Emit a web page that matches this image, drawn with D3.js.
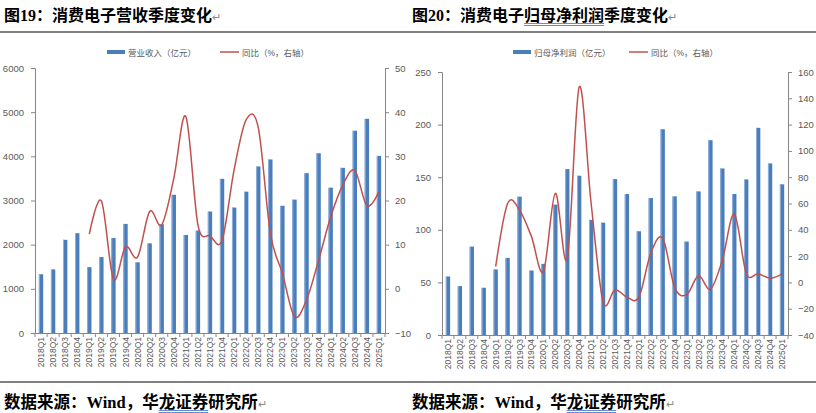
<!doctype html>
<html>
<head>
<meta charset="utf-8">
<script src="https://cdnjs.cloudflare.com/ajax/libs/d3/7.8.5/d3.min.js"></script>
<style>
  body { margin: 0; background: #fff; }
  svg { display: block; }
  .tick text { fill: #595959; }
</style>
</head>
<body>
<svg id="chart" width="816" height="413"></svg>
<script>
// quarters 2018Q1 .. 2025Q1
var quarters = ["2018Q1","2018Q2","2018Q3","2018Q4","2019Q1","2019Q2","2019Q3","2019Q4",
  "2020Q1","2020Q2","2020Q3","2020Q4","2021Q1","2021Q2","2021Q3","2021Q4",
  "2022Q1","2022Q2","2022Q3","2022Q4","2023Q1","2023Q2","2023Q3","2023Q4",
  "2024Q1","2024Q2","2024Q3","2024Q4","2025Q1"];

// 营业收入（亿元）
var revenue = [1330,1440,2110,2260,1490,1720,2150,2470,1600,2030,2460,3130,2220,2320,2750,3490,
  2840,3200,3770,3930,2880,3020,3620,4070,3290,3740,4580,4850,4010];
// 同比（%），first year has no value
var revenueYoy = [null,null,null,null,12.4,19.9,2.2,9.5,7.2,17.5,14.5,25,39,14.5,12,11,
  27,38.3,36.5,12.6,3.5,-6.3,-2.5,6.5,16.3,23.5,26.8,18.8,22];

// 归母净利润（亿元）
var profit = [55.6,46.5,84,44.9,62.3,73.3,131.5,61.3,67.6,123.9,157.7,151.4,109.4,106.8,148.2,134,
  98.6,130.2,195.6,131.8,88.8,136.5,185.2,158.3,134,147.9,196.9,163.1,143.2];
var profitYoy = [null,null,null,null,12.1,60,55,34.8,8.3,67.7,18.4,148.6,60,-14.5,-5.6,-11.2,
  -11.2,22.2,33.6,-3.8,-9.4,5,-5.1,17.1,52,7,6.5,3.2,6.3];

var leftTicks = [0,1000,2000,3000,4000,5000,6000];
var leftTicks2 = [-10,0,10,20,30,40,50];
var rightTicks = [0,50,100,150,200,250];
var rightTicks2 = [-40,-20,0,20,40,60,80,100,120,140,160];

var svg = d3.select("#chart");
var serif = "'Liberation Serif','Noto Sans CJK SC',serif";
var sans = "'Liberation Sans','Noto Sans CJK SC',sans-serif";

function drawPanel(opt) {
  var g = svg.append("g");

  // title
  var t = g.append("text").attr("x", opt.x0 + 4).attr("y", 21)
    .attr("font-family", serif).attr("font-weight", "bold").attr("font-size", 16).attr("fill", "#000");
  opt.title.forEach(function(p) {
    var ts = t.append("tspan").text(p[0]);
    if (p[1]) ts.attr("id", "ul" + opt.x0);
  });
  t.append("tspan").attr("fill", "#8a8a8a").attr("font-size", 11).attr("font-weight", "normal").text("↵");
  g.append("line").attr("x1", opt.x0).attr("x2", opt.x0 + 408).attr("y1", 32).attr("y2", 32)
    .attr("stroke", "#000").attr("stroke-width", 1);

  var x = d3.scaleBand().domain(quarters).range([opt.left, opt.right]).paddingInner(0.64).paddingOuter(0.32);
  var y = d3.scaleLinear().domain(opt.yDomain).range([opt.bottom, opt.top]);
  var y2 = d3.scaleLinear().domain(opt.y2Domain).range([opt.bottom, opt.top]);

  // bars
  g.selectAll("rect.bar").data(opt.bars).join("rect").attr("class", "bar")
    .attr("x", function(d, i) { return x(quarters[i]); })
    .attr("width", x.bandwidth())
    .attr("y", function(d) { return y(d); })
    .attr("height", function(d) { return opt.bottom - y(d); })
    .attr("fill", "#4a7ebb");
  g.selectAll("rect.hl").data(opt.bars).join("rect").attr("class", "hl")
    .attr("x", function(d, i) { return x(quarters[i]); })
    .attr("width", 1)
    .attr("y", function(d) { return y(d); })
    .attr("height", function(d) { return opt.bottom - y(d); })
    .attr("fill", "#8fb0dc");

  // line
  var pts = opt.line.map(function(v, i) { return [quarters[i], v]; }).filter(function(d) { return d[1] !== null; });
  var line = d3.line()
    .x(function(d) { return x(d[0]) + x.bandwidth() / 2; })
    .y(function(d) { return y2(d[1]); })
    .curve(d3.curveCatmullRom.alpha(0));
  g.append("path").datum(pts).attr("d", line).attr("fill", "none")
    .attr("stroke", "#c0504d").attr("stroke-width", 1.5);

  // axes
  var axL = g.append("g").attr("transform", "translate(" + opt.left + ",0)")
    .call(d3.axisLeft(y).tickValues(opt.yTicks).tickSize(4).tickPadding(7).tickFormat(d3.format("d")));
  var axR = g.append("g").attr("transform", "translate(" + opt.right + ",0)")
    .call(d3.axisRight(y2).tickValues(opt.y2Ticks).tickSize(4).tickPadding(6)
      .tickFormat(function(d) { return d < 0 ? "\u2212" + Math.abs(d) : d; }));
  var axB = g.append("g").attr("transform", "translate(0," + opt.bottom + ")")
    .call(d3.axisBottom(x).tickSize(0).tickPadding(4));
  [axL, axR].forEach(function(a) {
    a.selectAll("text").attr("font-family", sans).attr("font-size", 9.5).attr("fill", "#595959");
    a.selectAll("line,path").attr("stroke", "#868686");
  });
  axB.select("path").attr("stroke", "#868686");
  axB.selectAll("text").attr("font-family", sans).attr("font-size", 8.5).attr("fill", "#595959")
    .attr("transform", "rotate(-90)").attr("text-anchor", "end")
    .attr("x", -4).attr("y", 0).attr("dy", "0.35em");
  // category separator ticks
  var step = x.step();
  g.selectAll("line.sep").data(d3.range(quarters.length + 1)).join("line").attr("class", "sep")
    .attr("x1", function(i) { return opt.left + i * step; })
    .attr("x2", function(i) { return opt.left + i * step; })
    .attr("y1", opt.bottom).attr("y2", opt.bottom + 4)
    .attr("stroke", "#868686");

  // legend
  var lg = g.append("g").attr("font-family", sans).attr("font-size", 8.5).attr("fill", "#595959");
  lg.append("rect").attr("x", opt.legX).attr("y", 50).attr("width", 18).attr("height", 4).attr("fill", "#4a7ebb");
  lg.append("text").attr("x", opt.legX + 21).attr("y", 55.5).text(opt.barName);
  lg.append("line").attr("x1", opt.legX2).attr("x2", opt.legX2 + 19).attr("y1", 52).attr("y2", 52)
    .attr("stroke", "#c0504d").attr("stroke-width", 1.5);
  lg.append("text").attr("x", opt.legX2 + 22).attr("y", 55.5).text("同比（%，右轴）");

  // source
  g.append("line").attr("x1", opt.x0).attr("x2", opt.x0 + 408).attr("y1", 382).attr("y2", 382)
    .attr("stroke", "#000").attr("stroke-width", 1);
  var s = g.append("text").attr("x", opt.x0 + 4).attr("y", 408)
    .attr("font-family", serif).attr("font-weight", "bold").attr("font-size", 16.5).attr("fill", "#000");
  s.append("tspan").text("数据来源：Wind，华");
  s.append("tspan").attr("id", "src" + opt.x0).text("龙证券");
  s.append("tspan").text("研究所");
  s.append("tspan").attr("fill", "#8a8a8a").attr("font-size", 11).attr("font-weight", "normal").text("↵");

  // blue proofing underlines under marked words
  ["ul" + opt.x0, "src" + opt.x0].forEach(function(id) {
    var node = document.getElementById(id);
    if (!node) return;
    var start = node.getStartPositionOfChar(0).x;
    var end = node.getEndPositionOfChar(node.getNumberOfChars() - 1).x;
    var base = node.getStartPositionOfChar(0).y;
    [2.5, 4.5].forEach(function(dy) {
      g.append("line").attr("x1", start).attr("x2", end).attr("y1", base + dy).attr("y2", base + dy)
        .attr("stroke", "#3f6fc4").attr("stroke-width", 0.8);
    });
  });
}

drawPanel({
  x0: 0, title: [["图19：消费电子营收季度变化", false]],
  left: 35, right: 385, top: 68, bottom: 333,
  yDomain: [0, 6000], y2Domain: [-10, 50], yTicks: leftTicks, y2Ticks: leftTicks2,
  bars: revenue, line: revenueYoy,
  legX: 107, legX2: 220, barName: "营业收入（亿元）"
});

drawPanel({
  x0: 408, title: [["图20：消费电子", false], ["归母净利润", true], ["季度变化", false]],
  left: 442, right: 788, top: 72, bottom: 335,
  yDomain: [0, 250], y2Domain: [-40, 160], yTicks: rightTicks, y2Ticks: rightTicks2,
  bars: profit, line: profitYoy,
  legX: 513, legX2: 629, barName: "归母净利润（亿元）"
});
</script>
</body>
</html>
